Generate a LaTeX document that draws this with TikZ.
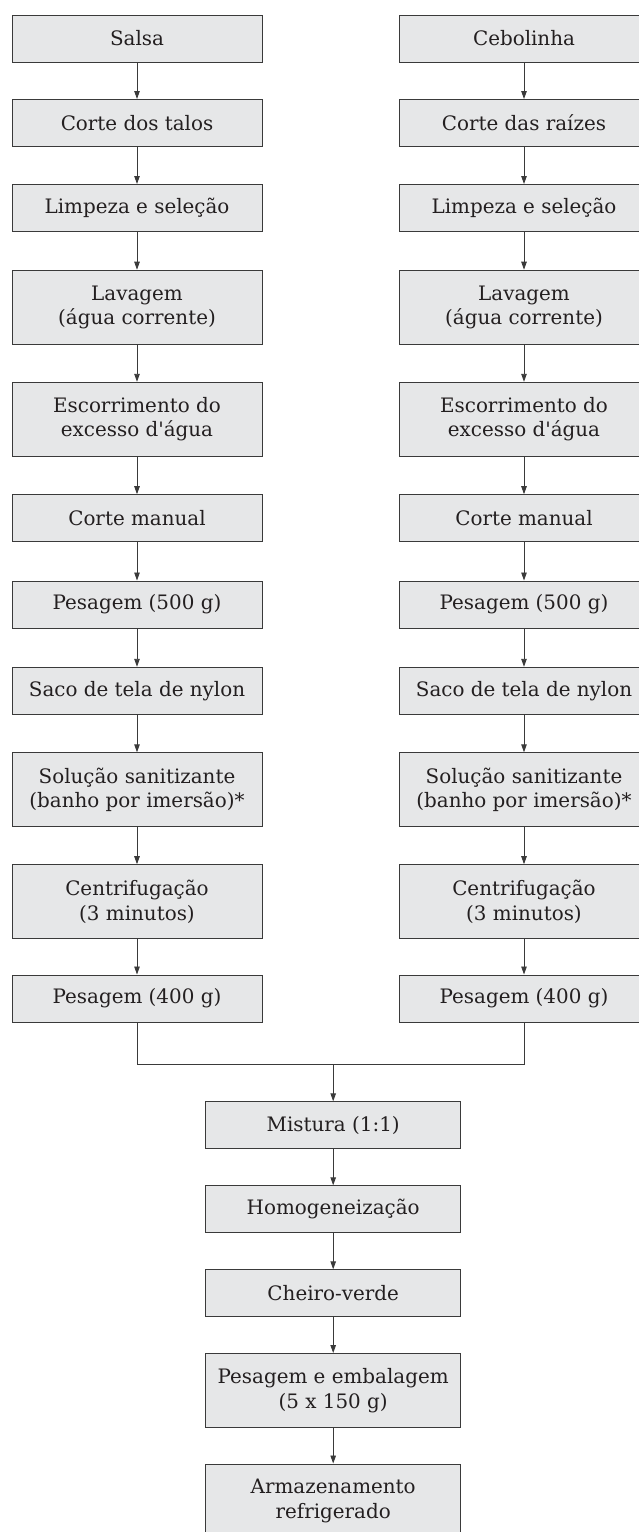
\documentclass[tikz,border=0pt]{standalone}
\usepackage{fontspec}
\setmainfont{DejaVu Serif}
\usetikzlibrary{arrows.meta}
\definecolor{boxfill}{HTML}{E6E7E8}
\definecolor{boxline}{HTML}{3A3A3A}
\definecolor{txt}{HTML}{231F20}
\tikzset{
  stepbox/.style={draw=boxline, fill=boxfill, line width=1pt, minimum width=250pt,
    minimum height=47pt, inner sep=0pt, align=center, text=txt,
    font=\fontsize{19.9}{24.3}\selectfont},
  twoline/.style={stepbox, minimum height=74pt},
  widebox/.style={minimum width=255pt},
  flow/.style={draw=boxline, line width=0.9pt, -{Triangle[length=8pt,width=5.5pt]}},
  joinline/.style={draw=boxline, line width=0.9pt}
}
\begin{document}
\begin{tikzpicture}[x=1pt,y=-1pt]
\useasboundingbox (0,0) rectangle (639,1532);
\clip (0,0) rectangle (639,1532);
% left column
\node[stepbox] (L1) at (137,38.5) {Salsa};
\node[stepbox] (L2) at (137,123) {Corte dos talos};
\node[stepbox] (L3) at (137,208) {Limpeza e seleção};
\node[twoline] (L4) at (137,307.2) {Lavagem\\(água corrente)};
\node[twoline] (L5) at (137,419.3) {Escorrimento do\\excesso d\textquotesingle água};
\node[stepbox] (L6) at (137,518.2) {Corte manual};
\node[stepbox] (L7) at (137,604.5) {Pesagem (500 g)};
\node[stepbox] (L8) at (137,690.8) {Saco de tela de nylon};
\node[twoline] (L9) at (137,789.8) {Solução sanitizante\\(banho por imersão)*};
\node[twoline] (L10) at (137,901.7) {Centrifugação\\(3 minutos)};
\node[stepbox] (L11) at (137,998.5) {Pesagem (400 g)};
% right column
\node[stepbox] (R1) at (524,38.5) {Cebolinha};
\node[stepbox] (R2) at (524,123) {Corte das raízes};
\node[stepbox] (R3) at (524,208) {Limpeza e seleção};
\node[twoline] (R4) at (524,307.2) {Lavagem\\(água corrente)};
\node[twoline] (R5) at (524,419.3) {Escorrimento do\\excesso d\textquotesingle água};
\node[stepbox] (R6) at (524,518.2) {Corte manual};
\node[stepbox] (R7) at (524,604.5) {Pesagem (500 g)};
\node[stepbox] (R8) at (524,690.8) {Saco de tela de nylon};
\node[twoline] (R9) at (524,789.8) {Solução sanitizante\\(banho por imersão)*};
\node[twoline] (R10) at (524,901.7) {Centrifugação\\(3 minutos)};
\node[stepbox] (R11) at (524,998.5) {Pesagem (400 g)};
% centre column
\node[stepbox,widebox] (C1) at (333.2,1125.3) {Mistura (1:1)};
\node[stepbox,widebox] (C2) at (333.2,1209.3) {Homogeneização};
\node[stepbox,widebox] (C3) at (333.2,1293.3) {Cheiro-verde};
\node[twoline,widebox] (C4) at (333.2,1390.5) {Pesagem e embalagem\\(5 x 150 g)};
\node[twoline,widebox] (C5) at (333.2,1501) {Armazenamento\\refrigerado};
% arrows
\foreach \a/\b in {1/2,2/3,3/4,4/5,5/6,6/7,7/8,8/9,9/10,10/11}{
  \draw[flow] (L\a.south) -- (L\b.north);
  \draw[flow] (R\a.south) -- (R\b.north);
}
\coordinate (m) at (333.2,1064);
\draw[joinline] (L11.south) |- (m);
\draw[joinline] (R11.south) |- (m);
\draw[flow] (m) -- (C1.north);
\draw[flow] (C1.south) -- (C2.north);
\draw[flow] (C2.south) -- (C3.north);
\draw[flow] (C3.south) -- (C4.north);
\draw[flow] (C4.south) -- (C5.north);
\end{tikzpicture}
\end{document}
